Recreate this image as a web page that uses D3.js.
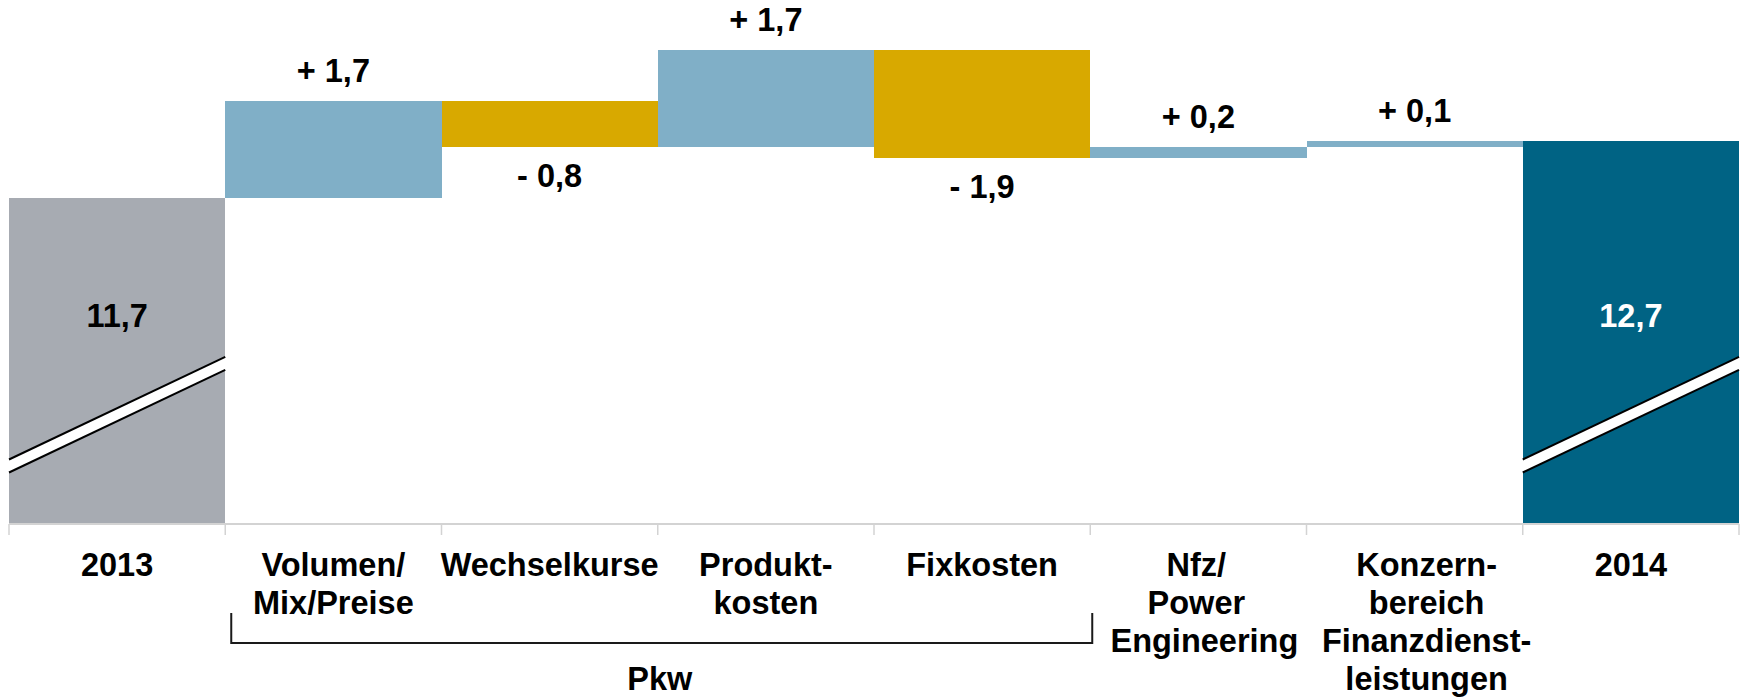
<!DOCTYPE html>
<html>
<head>
<meta charset="utf-8">
<script src="https://cdn.jsdelivr.net/npm/d3@7"></script>
<style>
  html, body { margin: 0; padding: 0; background: #fff; }
  svg { display: block; }
  text { font-family: "Liberation Sans", Arial, Helvetica, sans-serif; font-weight: bold; }
</style>
</head>
<body>
<svg id="chart" width="1746" height="698"></svg>
<script>
// ---------------- DATA ----------------
const categories = ["2013", "Volumen/Mix/Preise", "Wechselkurse", "Produktkosten", "Fixkosten",
  "Nfz/Power Engineering", "Konzernbereich Finanzdienstleistungen", "2014"];
const labelLines = [["2013"], ["Volumen/", "Mix/Preise"], ["Wechselkurse"], ["Produkt-", "kosten"],
  ["Fixkosten"], ["Nfz/", "Power", "Engineering"], ["Konzern-", "bereich", "Finanzdienst-", "leistungen"], ["2014"]];
const kinds = ["total", "delta", "delta", "delta", "delta", "delta", "delta", "total"];
const values = [11.7, 1.7, -0.8, 1.7, -1.9, 0.2, 0.1, 12.7];
const groupLabel = "Pkw";
const groupMembers = ["Volumen/Mix/Preise", "Wechselkurse", "Produktkosten", "Fixkosten"];
const axisDomain = [6.0, 14.3];      // broken axis: visible value range
const breakValues = [7.0, 8.8];      // where the axis-break stripe crosses the total bars

// ---------------- LAYOUT ----------------
const svg = d3.select("#chart");
const x = d3.scaleBand().domain(categories).range([9, 1739]).padding(0);
const y = d3.scaleLinear().domain(axisDomain).range([523, 50]);

const colors = { first: "#a7abb2", last: "#006384", up: "#80afc7", down: "#d8a900" };
const locale = d3.formatLocale({ decimal: ",", thousands: ".", grouping: [3], currency: ["", " €"] });
const fmt = locale.format(".1f");

// compute waterfall segments
let running = 0;
const bars = categories.map((c, i) => {
  const v = values[i];
  let lo, hi, color;
  if (kinds[i] === "total") {
    lo = axisDomain[0]; hi = v; running = v;
    color = i === 0 ? colors.first : colors.last;
  } else {
    const start = running, end = running + v;
    lo = Math.min(start, end); hi = Math.max(start, end);
    running = end;
    color = v >= 0 ? colors.up : colors.down;
  }
  return { c, i, v, lo, hi, color, kind: kinds[i] };
});

// bars
svg.append("g").selectAll("rect").data(bars).join("rect")
  .attr("x", d => x(d.c))
  .attr("width", x.bandwidth())
  .attr("y", d => y(d.hi))
  .attr("height", d => y(d.lo) - y(d.hi))
  .attr("fill", d => d.color)
  .attr("shape-rendering", "crispEdges");

// axis-break stripes on total bars
const half = 6.5;
const totals = bars.filter(d => d.kind === "total");
const brk = svg.append("g");
totals.forEach(d => {
  const x0 = x(d.c), x1 = x(d.c) + x.bandwidth();
  const yl = y(breakValues[0]), yr = y(breakValues[1]);
  brk.append("path")
    .attr("d", `M${x0},${yl - half}L${x1},${yr - half}L${x1},${yr + half}L${x0},${yl + half}Z`)
    .attr("fill", "#fff");
  [-half, half].forEach(o => {
    brk.append("line")
      .attr("x1", x0).attr("y1", yl + o).attr("x2", x1).attr("y2", yr + o)
      .attr("stroke", "#000").attr("stroke-width", 2);
  });
});

// axis line and boundary ticks
const axisY = y(axisDomain[0]) + 1;
const axisG = svg.append("g");
axisG.append("line")
  .attr("x1", x.range()[0]).attr("x2", x.range()[1])
  .attr("y1", axisY).attr("y2", axisY)
  .attr("stroke", "#d3d3d3").attr("stroke-width", 2);
const boundaries = categories.map(c => x(c)).concat([x.range()[1]]);
axisG.selectAll("line.tick").data(boundaries).join("line")
  .attr("class", "tick")
  .attr("x1", d => d).attr("x2", d => d)
  .attr("y1", axisY).attr("y2", axisY + 11)
  .attr("stroke", "#d3d3d3").attr("stroke-width", 1.5);

// value labels
const fontSize = 32.5;
const signed = v => (v >= 0 ? "+ " : "- ") + fmt(Math.abs(v));
svg.append("g").selectAll("text").data(bars).join("text")
  .attr("x", d => x(d.c) + x.bandwidth() / 2)
  .attr("y", d => {
    if (d.kind === "total") return y(axisDomain[0]) - 196;
    return d.v >= 0 ? y(d.hi) - 19 : y(d.lo) + 40;
  })
  .attr("text-anchor", "middle")
  .attr("font-size", fontSize)
  .attr("fill", d => (d.kind === "total" && d.i === categories.length - 1) ? "#fff" : "#000")
  .text(d => d.kind === "total" ? fmt(d.v) : signed(d.v));

// category labels
const labelDx = { "Konzernbereich Finanzdienstleistungen": [12, 12, 12, 12], "Nfz/Power Engineering": [-2, -2, 6] };
const lineH = 38, firstBase = 576;
const catG = svg.append("g");
categories.forEach((c, i) => {
  const t = catG.append("text")
    .attr("text-anchor", "middle")
    .attr("font-size", fontSize)
    .attr("fill", "#000");
  labelLines[i].forEach((ln, k) => {
    t.append("tspan")
      .attr("x", x(c) + x.bandwidth() / 2 + ((labelDx[c] || [])[k] || 0))
      .attr("y", firstBase + k * lineH)
      .text(ln);
  });
});

// group bracket
const gx0 = x(groupMembers[0]) + 6;
const gx1 = x(groupMembers[groupMembers.length - 1]) + x.bandwidth() + 2;
svg.append("path")
  .attr("d", `M${gx0},613V643H${gx1}V613`)
  .attr("fill", "none").attr("stroke", "#1a1a1a").attr("stroke-width", 2);
svg.append("text")
  .attr("x", (x(groupMembers[0]) + x(groupMembers[groupMembers.length - 1]) + x.bandwidth()) / 2 + 2)
  .attr("y", 690)
  .attr("text-anchor", "middle")
  .attr("font-size", fontSize)
  .attr("fill", "#000")
  .text(groupLabel);
</script>
</body>
</html>
